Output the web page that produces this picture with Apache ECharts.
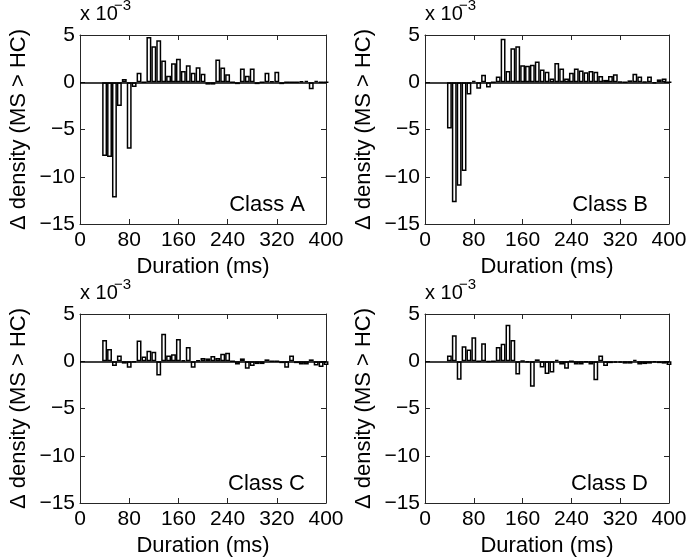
<!DOCTYPE html>
<html>
<head>
<meta charset="utf-8">
<script src="https://cdn.jsdelivr.net/npm/echarts@6/dist/echarts.min.js"></script>
<style>
html,body{margin:0;padding:0;background:#fff;}
#chart{width:691px;height:559px;}
</style>
</head>
<body>
<div id="chart"></div>
<script>
// Bin centres (ms)
const durations = [40,48,56,64,72,80,88,96,104,112,120,128,136,144,152,160,168,176,184,192,200,208,216,224,232,240,248,256,264,272,280,288,296,304,312,320,328,336,344,352,360,368,376,384,392,400];
// Δ density (MS > HC), units of 1e-3
const classA = [-7.8,-7.9,-12.2,-2.5,0.35,-7.05,-0.5,1.0,0,4.8,3.8,4.45,2.3,0.7,2.0,2.5,1.2,1.8,1.0,1.6,0.9,-0.25,-0.25,2.4,1.55,0.85,0,-0.2,1.45,0.7,1.45,-0.2,0,1.0,0.1,1.1,-0.2,0,0,0,0.1,0.15,-0.75,0.15,0,0];
const classB = [-4.9,-12.7,-10.95,-9.4,-1.3,0.15,-0.7,0.8,-0.55,0,0.6,4.6,1.2,3.6,3.8,1.8,1.75,1.85,2.2,1.35,1.1,0.4,2.05,1.45,0.4,1.0,1.45,1.25,1.05,1.2,1.1,0.65,0.25,0.65,0.85,0.05,0,0.2,0.9,0.6,0.05,0.6,-0.1,0.3,0.4,0];
const classC = [2.25,1.3,-0.5,0.6,-0.25,-0.7,-0.1,2.2,0.5,1.1,1.0,-1.5,2.9,0.6,0.75,2.35,0.1,1.5,-0.7,0.1,0.35,0.3,0.55,0.35,0.8,0.9,0,-0.35,0.3,-0.8,-0.5,-0.3,-0.3,0.2,0,0,-0.2,-0.7,0.6,-0.2,-0.35,-0.35,0.2,-0.45,-0.6,-0.4];
const classD = [0.6,2.75,-1.95,1.6,1.25,2.55,0,1.9,-0.05,0,1.5,1.85,3.85,2.25,-1.4,0.05,-0.1,-2.7,0.2,-0.65,-1.35,-1.2,0.15,-0.35,-0.8,0,-0.35,-0.35,-0.1,-0.35,-2.0,0.6,-0.5,-0.2,-0.15,-0.15,-0.25,-0.25,0.15,-0.35,-0.3,-0.25,-0.1,-0.2,-0.25,-0.4];
const seriesValues = [classA, classB, classC, classD];
const panelNames = ['Class A','Class B','Class C','Class D'];
const xTicks = [0,80,160,240,320,400];
const yTicks = [5,0,-5,-10,-15];
const binWidthMs = 8;
const xLabel = 'Duration (ms)';
const yLabel = 'Δ density (MS > HC)';
const multiplierBase = 'x 10';
const multiplierExp = '−3';

const FONT = '"Liberation Sans", Arial, Helvetica, sans-serif';
const AXIS_COLOR = '#262626';

const grids = [
  {left:80, top:35, width:246, height:189},
  {left:425, top:35, width:244, height:189},
  {left:80, top:314, width:246, height:189},
  {left:425, top:314, width:244, height:189}
];

const xMin = xTicks[0], xMax = xTicks[xTicks.length-1], xInt = xTicks[1]-xTicks[0];
const yMin = Math.min(...yTicks), yMax = Math.max(...yTicks), yInt = 5;

const option = {
  animation:false,
  backgroundColor:'#fff',
  textStyle:{fontFamily:FONT},
  grid: grids.map(g => Object.assign({containLabel:false}, g)),
  xAxis: [], yAxis: [], series: [], title: []
};

grids.forEach((g, i) => {
  option.xAxis.push({
    type:'value', gridIndex:i, min:xMin, max:xMax, interval:xInt, position:'bottom',
    axisLine:{show:true, onZero:false, lineStyle:{color:AXIS_COLOR, width:1}},
    axisTick:{show:true, inside:true, length:5, lineStyle:{color:AXIS_COLOR}},
    axisLabel:{show:true, color:'#000', fontSize:21, margin:6, fontFamily:FONT},
    splitLine:{show:false},
    name:xLabel, nameLocation:'middle', nameGap:32,
    nameTextStyle:{color:'#000', fontSize:22, fontFamily:FONT}
  });
  option.xAxis.push({
    type:'value', gridIndex:i, min:xMin, max:xMax, interval:xInt, position:'top',
    axisLine:{show:true, onZero:false, lineStyle:{color:AXIS_COLOR, width:1}},
    axisTick:{show:true, inside:true, length:5, lineStyle:{color:AXIS_COLOR}},
    axisLabel:{show:false}, splitLine:{show:false}
  });
  option.yAxis.push({
    type:'value', gridIndex:i, min:yMin, max:yMax, interval:yInt, position:'left',
    axisLine:{show:true, onZero:false, lineStyle:{color:AXIS_COLOR, width:1}},
    axisTick:{show:true, inside:true, length:5, lineStyle:{color:AXIS_COLOR}},
    axisLabel:{show:true, color:'#000', fontSize:21, margin:5, fontFamily:FONT,
      formatter: v => String(v).replace('-', '−')},
    splitLine:{show:false},
    name:yLabel, nameLocation:'middle', nameGap:50, nameRotate:90,
    nameTextStyle:{color:'#000', fontSize:22, fontFamily:FONT}
  });
  option.yAxis.push({
    type:'value', gridIndex:i, min:yMin, max:yMax, interval:yInt, position:'right',
    axisLine:{show:true, onZero:false, lineStyle:{color:AXIS_COLOR, width:1}},
    axisTick:{show:true, inside:true, length:5, lineStyle:{color:AXIS_COLOR}},
    axisLabel:{show:false}, splitLine:{show:false}
  });
  const vals = seriesValues[i];
  option.series.push({
    type:'bar', xAxisIndex:2*i, yAxisIndex:2*i,
    data: durations.map((d, k) => [d, vals[k]]),
    barWidth: g.width * binWidthMs / (xMax - xMin),
    itemStyle:{color:'#fff', borderColor:'#000', borderWidth:1.5},
    emphasis:{disabled:true},
    clip:true,
    markLine:{
      silent:true, symbol:['none','none'],
      label:{show:false},
      lineStyle:{color:'#000', type:'solid', width:1.6},
      data:[{yAxis:0}]
    }
  });
  option.title.push({
    text: panelNames[i],
    right: 691 - (g.left + g.width) + 21,
    top: g.top + g.height - 30,
    padding:0,
    textStyle:{fontSize:22, fontWeight:'normal', color:'#000', fontFamily:FONT}
  });
  option.title.push({
    text: multiplierBase,
    left: g.left, top: g.top - 31, padding:0,
    textStyle:{fontSize:20, fontWeight:'normal', color:'#000', fontFamily:FONT}
  });
  option.title.push({
    text: multiplierExp,
    left: g.left + 34, top: g.top - 37, padding:0,
    textStyle:{fontSize:15, fontWeight:'normal', color:'#000', fontFamily:FONT}
  });
});

const chart = echarts.init(document.getElementById('chart'), null, {renderer:'canvas'});
chart.setOption(option);
</script>
</body>
</html>
